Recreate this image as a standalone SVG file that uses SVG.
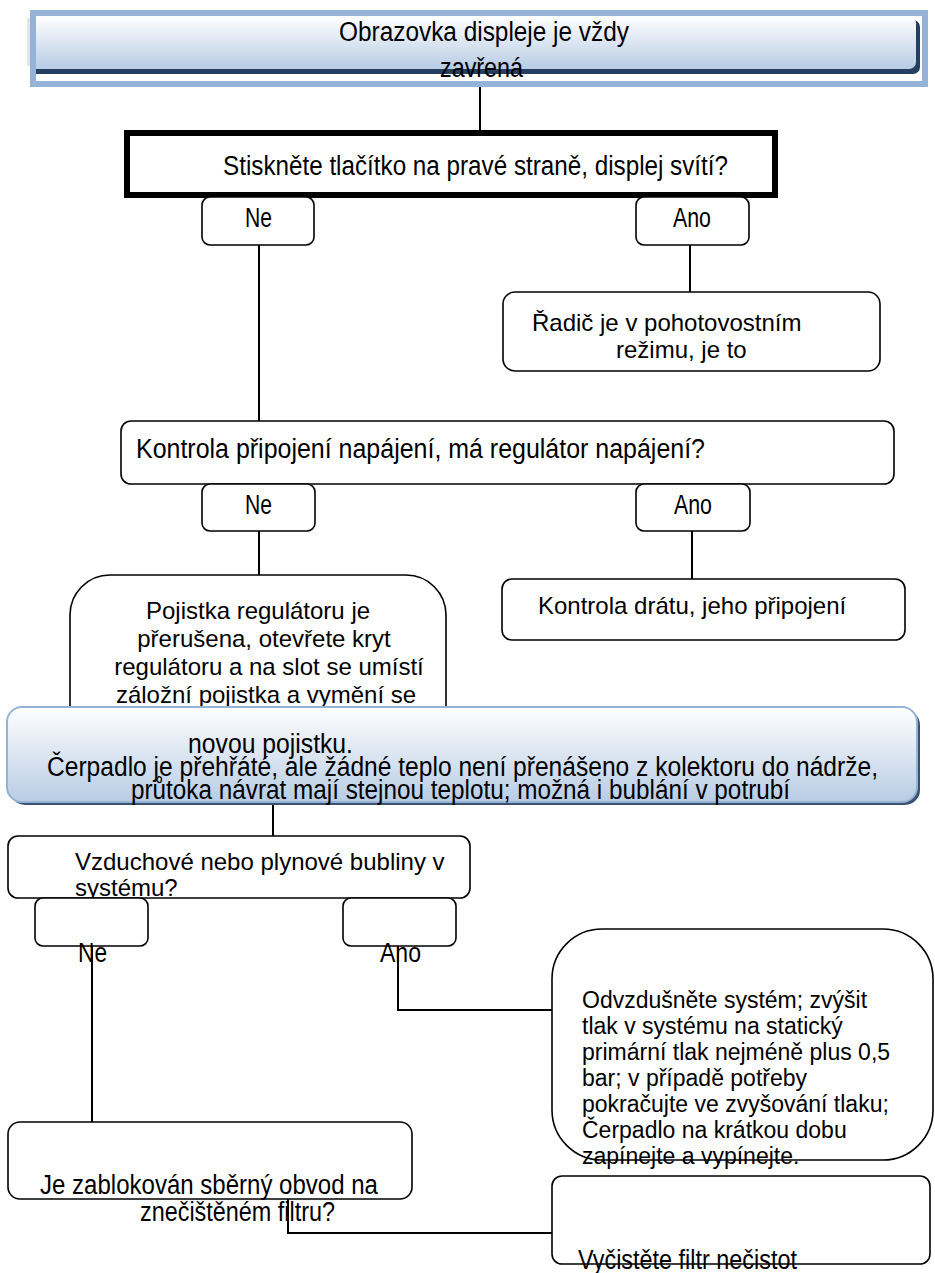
<svg xmlns="http://www.w3.org/2000/svg" width="935" height="1273" viewBox="0 0 935 1273">
  <defs>
    <linearGradient id="gBlue" x1="0" y1="0" x2="0" y2="1">
      <stop offset="0" stop-color="#ffffff"/>
      <stop offset="1" stop-color="#b8cce4"/>
    </linearGradient>
    <style>
      .box { fill: #ffffff; stroke: #000000; stroke-width: 1.6; }
      .thick { fill: #ffffff; stroke: #000000; stroke-width: 6; }
      .wire { fill: none; stroke: #000000; stroke-width: 2; }
      .t { font-family: "Liberation Sans", Arial, sans-serif; font-size: 24px; fill: #000000; }
      .s { font-family: "Liberation Sans", Arial, sans-serif; font-size: 23px; fill: #000000; }
      .n { font-family: "Liberation Sans", Arial, sans-serif; font-size: 27px; fill: #000000; }
    </style>
  </defs>

  <!-- connectors -->
  <g id="connectors">
    <line class="wire" x1="480" y1="87" x2="480" y2="133"/>
    <line class="wire" x1="259" y1="245" x2="259" y2="421"/>
    <line class="wire" x1="690" y1="245" x2="690" y2="292"/>
    <line class="wire" x1="259" y1="531" x2="259" y2="575"/>
    <line class="wire" x1="692" y1="531" x2="692" y2="579"/>
    <line class="wire" x1="273" y1="800" x2="273" y2="836"/>
    <line class="wire" x1="92" y1="946" x2="92" y2="1122"/>
    <polyline class="wire" points="398,946 398,1010 552,1010"/>
    <polyline class="wire" points="288,1199 288,1233 552,1233"/>
  </g>

  <!-- start: screen is dark -->
  <g id="n-start">
    <rect x="27" y="18" width="8" height="48" fill="#dfe6ef"/>
    <path d="M30,20 H913 a7,7 0 0 1 7,7 V67 a7,7 0 0 1 -7,7 H30 Z" fill="#243f60"/>
    <path d="M30,16 H909 a7,7 0 0 1 7,7 V62 a7,7 0 0 1 -7,7 H30 Z" fill="url(#gBlue)"/>
    <rect x="33" y="13" width="892" height="71" fill="none" stroke="#95b3d7" stroke-width="6"/>
    <text class="n" x="339" y="41" textLength="290" lengthAdjust="spacingAndGlyphs">Obrazovka displeje je vždy</text>
    <text class="n" x="440" y="77" textLength="83" lengthAdjust="spacingAndGlyphs">zavřená</text>
  </g>

  <!-- press the button -->
  <g id="n-press">
    <rect class="thick" x="127" y="133" width="648" height="62"/>
    <text class="n" x="223" y="175" textLength="505" lengthAdjust="spacingAndGlyphs">Stiskněte tlačítko na pravé straně, displej svítí?</text>
  </g>

  <g id="n-press-no">
    <rect class="box" x="202" y="197" width="112" height="48" rx="8"/>
    <text class="n" x="245" y="227" textLength="27" lengthAdjust="spacingAndGlyphs">Ne</text>
  </g>

  <g id="n-press-yes">
    <rect class="box" x="636" y="197" width="113" height="48" rx="8"/>
    <text class="n" x="673" y="227" textLength="38" lengthAdjust="spacingAndGlyphs">Ano</text>
  </g>

  <g id="n-standby">
    <rect class="box" x="503" y="292" width="377" height="79" rx="12"/>
    <text class="t" x="532" y="331">Řadič je v pohotovostním</text>
    <text class="t" x="616" y="358">režimu, je to</text>
  </g>

  <!-- power supply check -->
  <g id="n-power">
    <rect class="box" x="121" y="421" width="773" height="63" rx="10"/>
    <text class="n" x="136" y="458" textLength="569" lengthAdjust="spacingAndGlyphs">Kontrola připojení napájení, má regulátor napájení?</text>
  </g>

  <g id="n-power-no">
    <rect class="box" x="202" y="484" width="113" height="47" rx="8"/>
    <text class="n" x="245" y="514" textLength="27" lengthAdjust="spacingAndGlyphs">Ne</text>
  </g>

  <g id="n-power-yes">
    <rect class="box" x="636" y="484" width="114" height="47" rx="8"/>
    <text class="n" x="674" y="514" textLength="38" lengthAdjust="spacingAndGlyphs">Ano</text>
  </g>

  <g id="n-fuse">
    <rect class="box" x="70" y="575" width="376" height="180" rx="40"/>
    <g class="t" text-anchor="middle">
      <text x="258" y="619">Pojistka regulátoru je</text>
      <text x="264" y="647">přerušena, otevřete kryt</text>
      <text x="269" y="675">regulátoru a na slot se umístí</text>
      <text x="266" y="703">záložní pojistka a vymění se</text>
    </g>
  </g>

  <g id="n-wire">
    <rect class="box" x="502" y="579" width="403" height="61" rx="10"/>
    <text class="t" x="538" y="614">Kontrola drátu, jeho připojení</text>
  </g>

  <!-- pump overheats -->
  <g id="n-pump">
    <rect x="10" y="710" width="910" height="95" rx="15" fill="#3c5170"/>
    <rect x="7" y="707" width="910" height="95" rx="15" fill="url(#gBlue)" stroke="#95b3d7" stroke-width="2"/>
    <text class="n" x="188" y="753" textLength="165" lengthAdjust="spacingAndGlyphs">novou pojistku.</text>
    <text class="n" x="47" y="776" textLength="831" lengthAdjust="spacingAndGlyphs">Čerpadlo je přehřáté, ale žádné teplo není přenášeno z kolektoru do nádrže,</text>
    <text class="n" x="131" y="799" textLength="659" lengthAdjust="spacingAndGlyphs">průtoka návrat mají stejnou teplotu; možná i bublání v potrubí</text>
  </g>

  <g id="n-bubbles">
    <rect class="box" x="8" y="836" width="462" height="62" rx="10"/>
    <text class="t" x="75" y="870">Vzduchové nebo plynové bubliny v</text>
    <text class="t" x="75" y="896">systému?</text>
  </g>

  <g id="n-bubbles-no">
    <rect class="box" x="35" y="898" width="113" height="48" rx="8"/>
    <text class="n" x="78" y="962" textLength="29" lengthAdjust="spacingAndGlyphs">Ne</text>
  </g>

  <g id="n-bubbles-yes">
    <rect class="box" x="343" y="898" width="113" height="48" rx="8"/>
    <text class="n" x="380" y="962" textLength="41" lengthAdjust="spacingAndGlyphs">Ano</text>
  </g>

  <g id="n-vent">
    <rect class="box" x="552" y="929" width="381" height="231" rx="50"/>
    <g class="s">
      <text x="582" y="1008">Odvzdušněte systém; zvýšit</text>
      <text x="582" y="1034">tlak v systému na statický</text>
      <text x="582" y="1060">primární tlak nejméně plus 0,5</text>
      <text x="582" y="1086">bar; v případě potřeby</text>
      <text x="582" y="1112">pokračujte ve zvyšování tlaku;</text>
      <text x="582" y="1138">Čerpadlo na krátkou dobu</text>
      <text x="582" y="1164">zapínejte a vypínejte.</text>
    </g>
  </g>

  <g id="n-filter">
    <rect class="box" x="8" y="1122" width="404" height="77" rx="12"/>
    <text class="n" x="40" y="1194" textLength="338" lengthAdjust="spacingAndGlyphs">Je zablokován sběrný obvod na</text>
    <text class="n" x="140" y="1221" textLength="195" lengthAdjust="spacingAndGlyphs">znečištěném filtru?</text>
  </g>

  <g id="n-clean">
    <rect class="box" x="552" y="1176" width="378" height="88" rx="10"/>
    <text class="n" x="578" y="1269" textLength="219" lengthAdjust="spacingAndGlyphs">Vyčistěte filtr nečistot</text>
  </g>
</svg>
